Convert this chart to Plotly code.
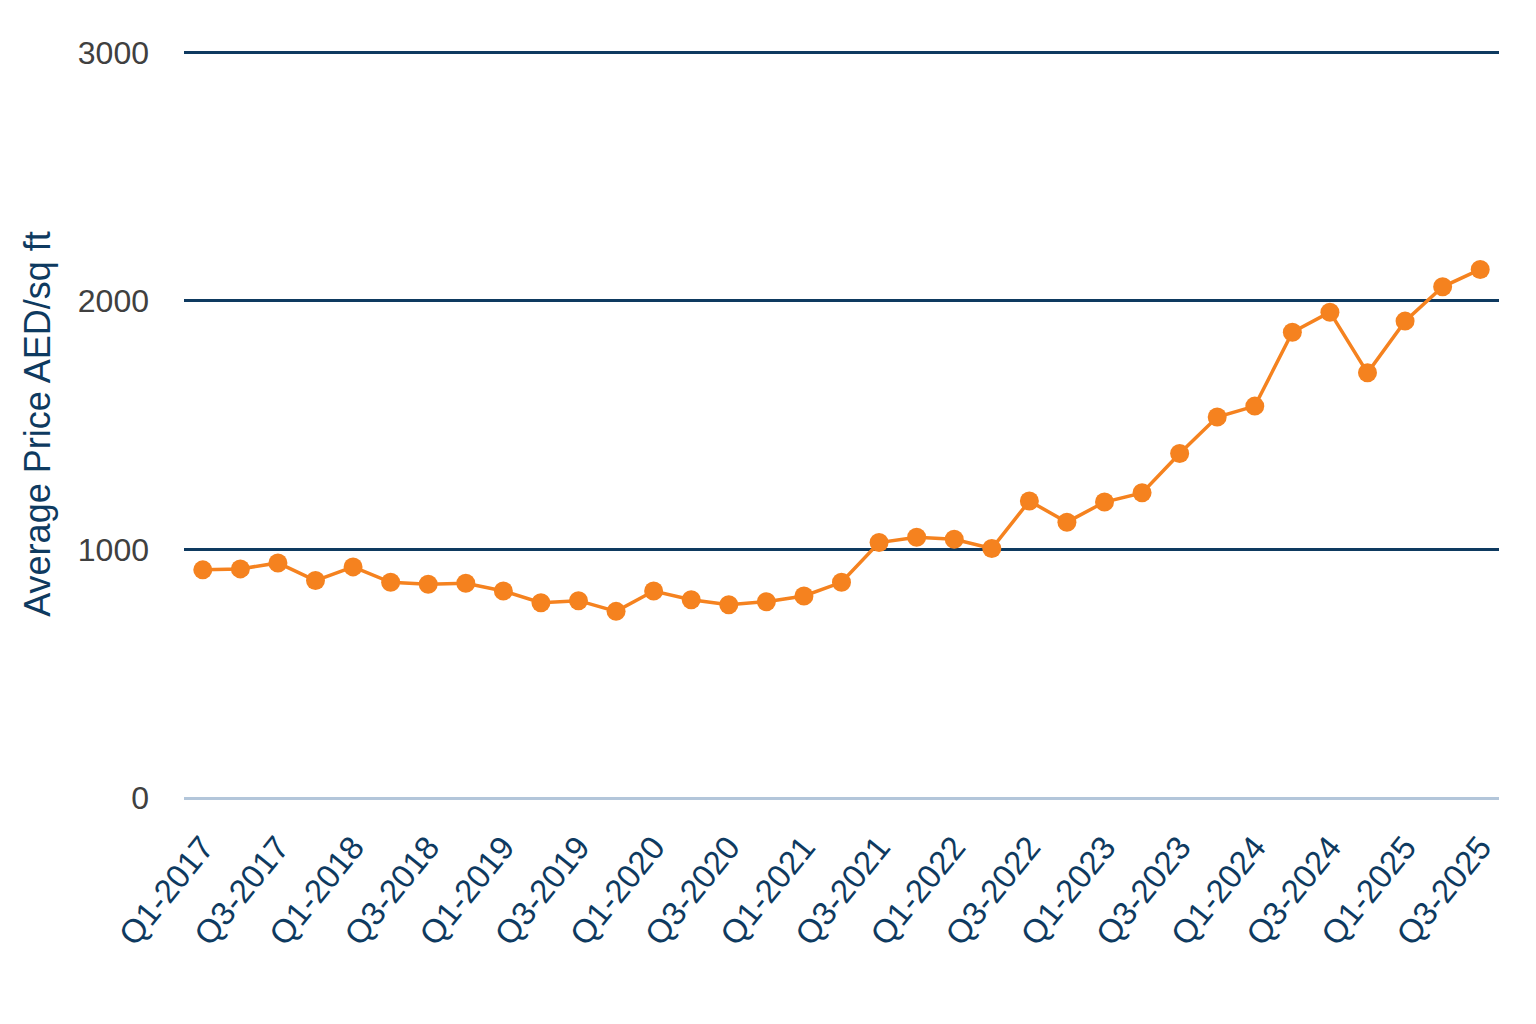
import plotly.graph_objects as go

quarters = [f"Q{q}-{y}" for y in range(2017, 2026) for q in range(1, 5)][:35]
prices = [918, 922, 946, 875, 930, 868, 860, 864, 833, 786, 794, 751, 833, 798, 778,
          790, 813, 868, 1028, 1049, 1041, 1004, 1195, 1110, 1191, 1228, 1386, 1533,
          1577, 1874, 1955, 1711, 1919, 2057, 2127]
y_ticks = [0, 1000, 2000, 3000]
x_ticks = quarters[::2]

ORANGE = "#F5821F"
NAVY = "#0E3A60"

fig = go.Figure()
fig.add_trace(go.Scatter(
    x=quarters, y=prices, mode="lines+markers",
    line=dict(color=ORANGE, width=3.5),
    marker=dict(color=ORANGE, size=19),
    showlegend=False,
))

fig.update_layout(
    width=1536, height=1024,
    margin=dict(l=184, r=37, t=50, b=226),
    paper_bgcolor="white", plot_bgcolor="white",
    font=dict(family="Liberation Sans, Arial, sans-serif"),
)
fig.update_xaxes(
    type="category", categoryorder="array", categoryarray=quarters,
    range=[-0.5, 34.5], tickvals=x_ticks, ticktext=x_ticks,
    tickangle=-51, tickfont=dict(size=33, color=NAVY),
    showgrid=False, showline=False, ticks="", ticklabelstandoff=22,
)
fig.update_yaxes(
    range=[0, 3010], tickvals=y_ticks,
    tickfont=dict(size=32, color="#404040"),
    gridcolor=NAVY, gridwidth=2.5,
    zeroline=True, zerolinecolor="#B3C6DA", zerolinewidth=2.5,
    ticks="", ticklabelstandoff=34, showline=False,
    title=dict(text="Average Price AED/sq ft", font=dict(size=36, color=NAVY), standoff=16),
)

fig.write_html("out.html")
